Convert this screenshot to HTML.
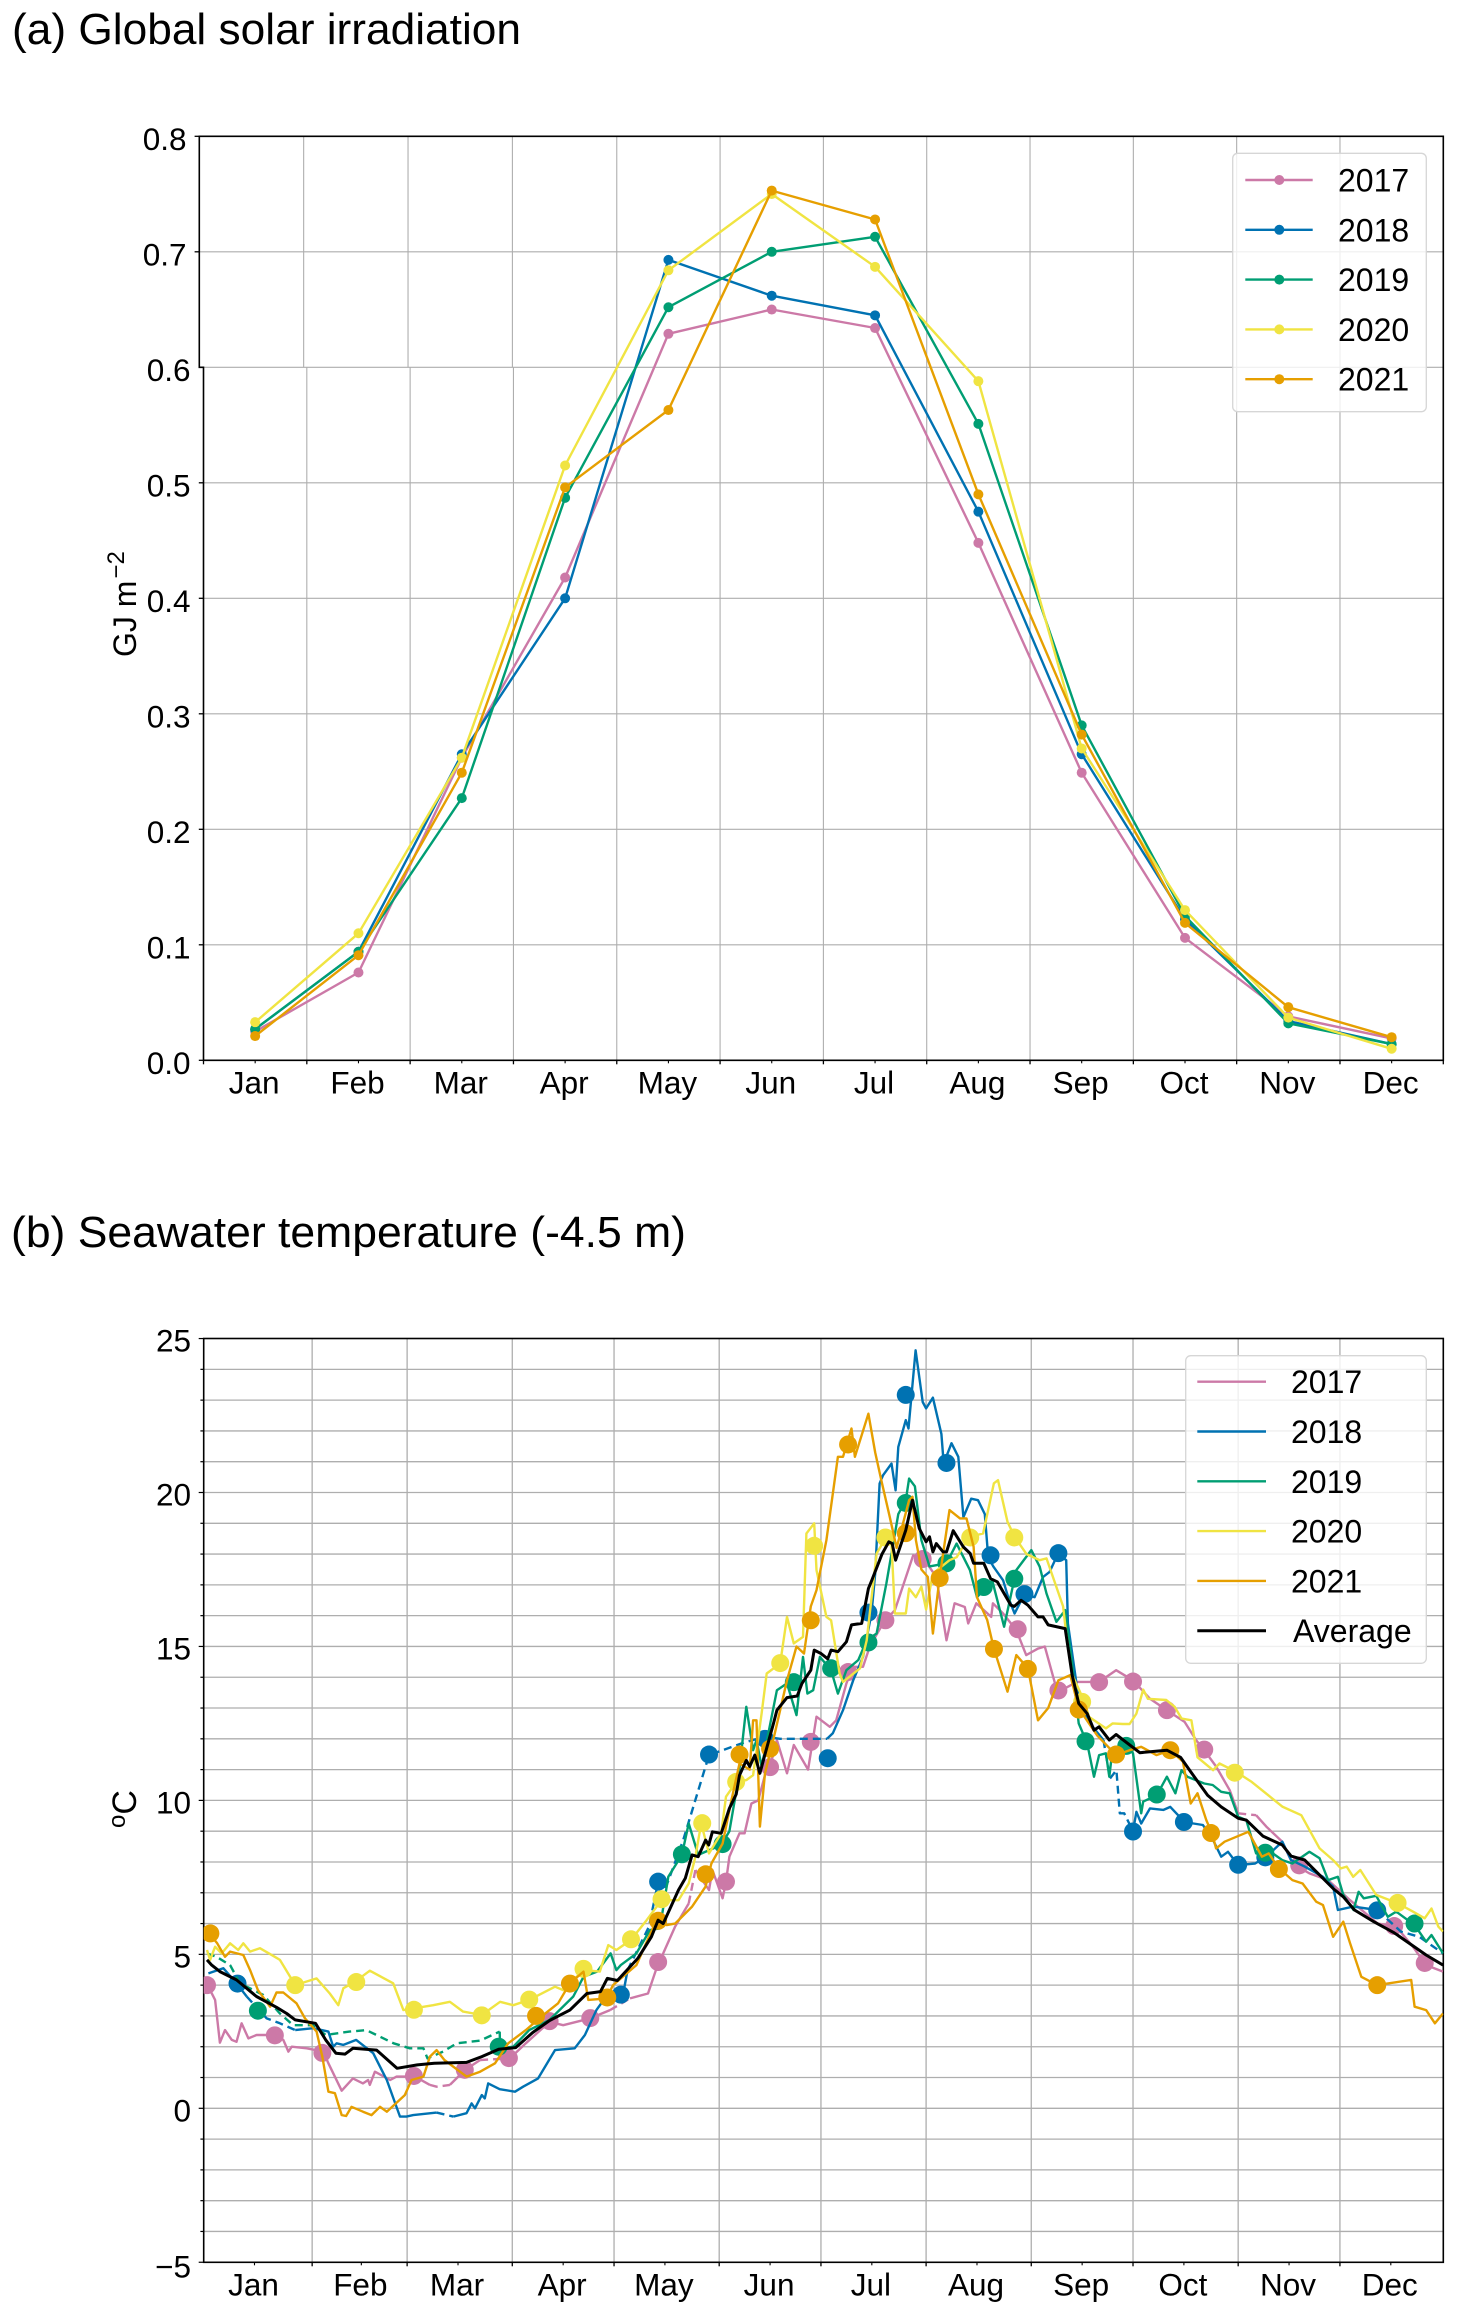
<!DOCTYPE html>
<html lang="en">
<head>
<meta charset="utf-8">
<title>Global solar irradiation and seawater temperature</title>
<style>
html,body{margin:0;padding:0;background:#fff;}
svg{display:block;font-family:"Liberation Sans",sans-serif;}
</style>
</head>
<body>
<svg id="fig" xmlns="http://www.w3.org/2000/svg" width="1464" height="2319" viewBox="0 0 1464 2319">
  <rect x="0" y="0" width="1464" height="2319" fill="#ffffff"/>
  <text x="12" y="44" font-size="44" textLength="509" lengthAdjust="spacingAndGlyphs" fill="#000">(a) Global solar irradiation</text>
  <text x="11" y="1247" font-size="44" textLength="675" lengthAdjust="spacingAndGlyphs" fill="#000">(b) Seawater temperature (-4.5 m)</text>
  <text transform="translate(136,657) rotate(-90)" font-size="32" fill="#000">GJ m<tspan dy="-12" dx="2" font-size="24">−2</tspan></text>
  <text transform="translate(136,1828) rotate(-90)" font-size="34" fill="#000"><tspan dy="-11" font-size="24">o</tspan><tspan dy="11">C</tspan></text>
  <defs>
    <clipPath id="clipB"><rect x="203.7" y="1338.5" width="1239.6" height="923.8"/></clipPath>
  </defs>
</svg>
<script>
// ---------- shared ----------
const monthNames = ["Jan","Feb","Mar","Apr","May","Jun","Jul","Aug","Sep","Oct","Nov","Dec"];
const seriesNames = ["2017","2018","2019","2020","2021"];
const seriesColors = ["#CC79A7","#0072B2","#009E73","#F0E442","#E69F00"];

// ---------- panel (a): monthly irradiation, GJ m-2 ----------
const solarTicks = [0,0.1,0.2,0.3,0.4,0.5,0.6,0.7,0.8];
const solar2017 = [.025,.076,.262,.418,.629,.650,.634,.448,.249,.106,.038,.019];
const solar2018 = [.027,.094,.265,.400,.693,.662,.645,.475,.265,.122,.034,.014];
const solar2019 = [.027,.094,.227,.487,.652,.700,.713,.551,.290,.125,.032,.014];
const solar2020 = [.033,.110,.262,.515,.684,.750,.687,.588,.270,.130,.037,.010];
const solar2021 = [.021,.091,.249,.496,.563,.753,.728,.490,.282,.119,.046,.020];

// ---------- panel (b): seawater temperature, [day of year, deg C] ----------
const tempTicks = [-5,0,5,10,15,20,25];
const monthLengths = [31,28,31,30,31,30,31,31,30,31,30,31];
const midMonthDays = [14,45.5,74,105,135,166,196,227,258,288,319,349];

const temp2017 = [[0.4,3.95],[2.4,3.52],[3.8,2.13],[5.3,2.54],[7.3,2.22],[8.7,2.16],[10.2,2.76],[12.2,2.27],[14.6,2.38],[20,2.38],[22.5,2.22],[24,1.84],[25,2],[29.4,1.95],[34.3,1.84],[35.8,1.46],[39.7,.57],[43,.97],[46,.81],[47.5,.92],[48,.76],[49.5,1.19],[54,.92],[55.9,1.03],[61.3,1.03],[65.7,.76],[67.7,.7],[71.6,.76],[76,1.24],[80.5,1.57],[89.3,1.62],[94,2.11],[101,2.81],[105,2.7],[112.9,2.92],[118.8,3.19],[124.7,3.57],[130,3.73],[133,4.7],[134.5,5.03],[138,5.9],[142,6.65],[144,7.74],[148,7.09],[149,7.74],[152,6.82],[153,7.36],[154,8.17],[157,8.93],[158.5,8.93],[160.5,9.9],[162.5,10],[164.9,10.98],[166,11.1],[168,11.96],[171,10.88],[173,11.8],[177.2,11],[179.7,12.72],[183.6,12.39],[185.5,12.6],[188.5,13.8],[190.5,14.34],[193.4,14.34],[195.4,15],[199.3,15.75],[202.8,16.18],[208.2,17.96],[211.6,17.8],[215,17.26],[218,15.2],[220.4,16.4],[223.4,16.28],[224.4,15.75],[226.8,16.4],[231.2,15.96],[231.7,16.4],[234.7,16.07],[238.6,15.53],[241.5,14.72],[245,14.93],[247,15],[250,13.8],[251.9,13.58],[256.5,13.85],[263,13.85],[268,14.23],[273,13.9],[278,13.3],[283,12.93],[288.2,12.55],[291.6,11.96],[294,11.63],[297.5,11.1],[301.5,10.33],[304,9.58],[309.3,9.52],[312.3,9.15],[317,8.66],[320,7.95],[325,7.63],[330.5,7.41],[337,6.76],[345.1,6],[350.6,5.9],[355.5,5.25],[359.4,4.65],[364.4,4.44]];
const dash2017 = [[65.7,71.6],[80.5,89.3],[118.8,124.7],[142,144],[304,309.3]];
const marks2017 = [[0,4],[20,2.37],[34,1.8],[61,1.05],[76,1.25],[89,1.63],[101,2.83],[113,2.93],[133,4.75],[153,7.36],[166,11.08],[178,11.9],[189,14.17],[200,15.85],[211,17.84],[239,15.56],[251,13.57],[263,13.84],[273,13.86],[283,12.93],[294,11.65],[322,7.89],[350,5.92],[359,4.72]];

const temp2018 = [[0.4,4.38],[4.8,4.55],[8.7,4.06],[11.7,3.63],[17.6,2.92],[21.5,2.76],[26,2.54],[31.3,2.6],[35.8,2.49],[37.2,2],[38.2,2.11],[40.2,2.06],[44,2.22],[49,1.79],[53,.92],[56.9,-.27],[58.8,-.27],[60.8,-.22],[67.7,-.14],[72.6,-.27],[76.5,-.16],[78,.16],[79,0],[81,.43],[81.9,.32],[82.9,.81],[86.3,.62],[90.8,.54],[93.2,.7],[97.6,.97],[102.6,1.89],[108.4,1.95],[111.4,2.38],[114.8,3.19],[118.3,3.73],[122.7,3.73],[124,4.49],[130.3,5.9],[132.9,7.3],[135,7.09],[140.4,8.71],[148,11.47],[157.6,11.85],[164.4,12.07],[168.9,12],[182.8,12],[184.5,12.18],[187.5,12.93],[190.5,13.9],[193.4,14.66],[195.9,16.07],[197,17.37],[198.3,20.29],[199.3,20.56],[201.8,20.94],[203,20.07],[203.8,21.48],[206,22.35],[206.8,22.08],[208.9,24.62],[211,22.94],[212,22.73],[214,23.08],[216.5,21.9],[217.2,20.94],[219.5,21.6],[221.5,21.16],[223,19.2],[225.3,19.8],[227.3,19.75],[229.3,19.3],[230.3,17.9],[231.8,17.6],[234.7,17.15],[236.2,16.6],[238.1,16.07],[241,16.7],[244,16.6],[246.5,17.26],[248.4,17.42],[250.9,18.02],[253.3,17.8],[253.8,15.75],[257.3,13.04],[259.3,12.72],[260.7,12.45],[264.3,11.96],[266.2,10.71],[268.1,10.98],[269.1,9.58],[270.4,9.58],[273,9],[274,9.63],[275.4,9.25],[278,9.74],[282,9.69],[284,9.79],[286.3,9.52],[288,9.3],[293.6,9.2],[296.6,8.71],[299,8.17],[301,8.33],[304,7.9],[309,7.95],[312.3,8.17],[317,8.66],[319.6,8.06],[323.6,7.85],[329,7.52],[332,7.2],[333.4,6.44],[337.9,6.55],[345,6.44],[352,5.74],[357.4,5.57],[364.4,5.03]];
const dash2018 = [[11.7,26],[67.7,72.6],[124,182.8],[264.3,273],[345,364.4]];
const marks2018 = [[9,4.05],[122,3.69],[133,7.36],[148,11.49],[164.5,12],[183,11.37],[195,16.1],[206,23.17],[218,20.96],[231,17.96],[241,16.7],[251,18.03],[273,8.99],[288,9.3],[304,7.91],[312,8.15],[345,6.43]];

const temp2019 = [[0,5.03],[2.8,4.92],[6.8,4.65],[9.7,4.06],[16.6,3.68],[21.5,3.08],[25.4,2.7],[31.3,2.7],[35,2.38],[42,2.49],[47,2.54],[55,2.11],[59.8,1.95],[63.8,1.95],[65,1.62],[69.6,1.84],[73.6,2.11],[80.5,2.2],[86.3,2.49],[86.4,1.95],[90.3,2],[95,2.54],[101,2.87],[108,3.63],[111,4.27],[115,4.44],[119,5.03],[120.7,4.49],[122,4.65],[126.6,5.03],[130.6,5.79],[133.5,5.84],[136,7.52],[140,8.23],[142,9.25],[144.8,8.23],[151.6,8.55],[154,9],[156.6,10.66],[159,13.04],[161,11.63],[162,11.96],[163.5,11.1],[164.5,11.63],[168,13.58],[171,13.8],[173.8,12.77],[175.7,14.66],[177,13.47],[178.7,13.58],[180.7,14.66],[184,14.23],[186,13.47],[188.5,14.23],[192,14.56],[194.5,15.2],[197.4,15.42],[200.3,17.05],[203.8,19.3],[206,19.75],[207,20.45],[208.7,20.2],[210.6,18.45],[213,17.6],[218,17.7],[221,18.34],[224.9,17.48],[227,16.6],[231.5,17.15],[235,15.64],[238.6,17.48],[243,18.13],[245.5,17.59],[247.5,16.72],[250.4,15.8],[253,16.18],[255,14.45],[257,12.5],[259.5,11.85],[261.5,10.77],[263,11.47],[265,11.53],[266,10.77],[267,11.7],[271,11.8],[273,11.53],[275.4,9.58],[276,9.96],[280,10.17],[283,10.77],[285.5,10.23],[287.3,10.98],[289,10.77],[294,10.55],[296.5,10.5],[299,10.28],[301.5,10.23],[304,9.47],[306.4,9.36],[309.3,8.28],[314.2,8.28],[317,8.06],[320,7.95],[325,8.33],[328,8.12],[330.5,7.41],[333.4,7.52],[335,6.93],[338,6.44],[339.5,7.03],[341,6.82],[344.7,6.9],[348.1,6.22],[350.6,6.39],[356,5.95],[359.4,5.41],[361,5.63],[364.4,5.03]];
const dash2019 = [[0,86.3]];
const marks2019 = [[15,3.17],[86,2],[140,8.25],[152,8.58],[173,13.84],[184,14.29],[195,15.13],[206,19.66],[218,17.7],[229,16.93],[238,17.2],[259,11.92],[271,11.77],[280,10.19],[312,8.3],[356,6]];

const temp2020 = [[0,5.14],[.9,4.82],[2.4,5.25],[4.3,5.03],[6.8,5.36],[9.2,5.14],[10.7,5.36],[12.7,5.09],[15.6,5.2],[20,4.92],[21.5,4.82],[26,4],[32.3,4.22],[36.2,3.73],[38.7,3.35],[40.2,3.9],[43.6,4.11],[48,4.47],[54.9,4.06],[57.9,3.19],[66.7,3.35],[71.6,3.46],[75.5,3.14],[81,3.03],[86.4,3.46],[90.3,3.35],[95,3.52],[102.6,3.95],[105,3.84],[111,4.49],[115.8,4.44],[118.3,5.3],[120.7,5.14],[125,5.47],[129.6,6.11],[134,6.76],[139,6.76],[142,7.3],[144,8.17],[145.7,9.25],[148,8.28],[151.6,8.93],[153,10.12],[156,10.6],[159,10.66],[161,10.82],[163.5,12.82],[165,14.12],[169,14.45],[171,15.96],[173,15.1],[175.7,15.31],[176.7,18.67],[179,19],[179.7,17.48],[182.6,15.96],[184,15.85],[186.5,14.12],[187.5,13.85],[192.5,14.29],[194.5,15.2],[197.4,18.02],[200.3,18.56],[201.8,18.34],[202.8,16.07],[206,16.07],[207,16.88],[209,16.6],[210.6,16.94],[212,16.2],[214,17.37],[218.9,17.8],[221,17.9],[224.7,18.56],[228.8,18.67],[232,20.3],[233.2,20.4],[236,19.05],[238.1,18.56],[241.6,18],[245.5,17.8],[247.5,17.86],[252.4,16.3],[253.3,15.42],[255,14.1],[258.7,13.2],[260,12.72],[265,12.34],[267,12.5],[270,12.48],[272,12.48],[274,12.82],[276,13.6],[277.4,13.3],[282.8,13.26],[285.3,13.04],[287.3,12.66],[290.2,12.6],[292,11.4],[296.6,10.98],[298.5,11.2],[303.4,10.93],[308,10.6],[317,9.8],[322.6,9.52],[328,8.44],[332,8.06],[334.3,7.79],[336,7.85],[337.9,7.52],[340,7.74],[344.7,6.93],[351,6.66],[355.5,6.39],[359,6.17],[361,6.49],[363,5.9],[364.4,5.74]];
const dash2020 = [];
const marks2020 = [[26,4],[44,4.1],[61,3.2],[81,3.02],[95,3.53],[111,4.53],[125,5.49],[134,6.79],[146,9.26],[156,10.6],[169,14.46],[179,18.27],[200,18.54],[225,18.54],[238,18.54],[258,13.2],[303,10.9],[351,6.67]];

const temp2021 = [[1,5.63],[3,5.36],[5.3,4.92],[6.8,5.09],[10.7,4.98],[12.7,4.49],[15,3.84],[18.6,3.3],[20.5,3.76],[22.5,3.76],[26.4,3.41],[28.9,2.92],[32.3,2.49],[34,1.68],[35.8,.54],[37.7,.49],[39.7,-.22],[41,-.25],[42.6,.05],[46,-.11],[48.5,-.22],[51,.05],[53,-.11],[58.3,.43],[60.3,.92],[63.8,1.03],[65.7,1.68],[67.7,1.89],[70,1.57],[76.5,1.03],[80.5,1.19],[84.9,1.46],[88.8,2.11],[94,2.54],[98.6,2.98],[103.5,3.41],[107,4.06],[111,4.44],[112.4,3.52],[117.8,3.57],[119.7,4],[126.6,4.65],[132.5,6.11],[135.5,5.95],[138,6],[143,6.55],[147,7.2],[148.7,7.95],[152,8.6],[154.6,10],[157,11.2],[160,11],[161,12.6],[162,12.6],[163,9.15],[164.5,10.88],[167.4,12.18],[171,13.9],[173.8,15],[176,14.77],[178,16.3],[179.7,16.83],[182.6,18.45],[186,21.16],[187.5,21.16],[190,22.08],[191,21.16],[195,22.56],[197,21.3],[199,20.3],[201.3,19.2],[203.3,18.2],[207,19.75],[208,19.86],[209,18.45],[210.6,17.5],[212.5,17.26],[214,15.42],[216,17.26],[218.9,19.43],[222,19.16],[223.9,19.16],[226,18.24],[227,16.6],[230,15.86],[232,14.93],[236,13.53],[238.6,14.72],[242,14.29],[245,12.6],[248,13],[251,13.9],[254.5,14.07],[257,12.99],[262.5,12.1],[268,11.47],[272,11.63],[275.4,11.74],[279.9,11.47],[284,11.63],[287.7,11.26],[290,9.9],[292,10.23],[294.6,9.36],[296.3,8.93],[297.5,8.44],[300,8.66],[307,8.98],[311,8.17],[313,8.28],[316,7.79],[320,7.41],[323,7.3],[327,6.71],[329,6.6],[332,5.57],[335,6.06],[337,5.36],[340.3,4.27],[345,4],[355,4.17],[356,3.3],[359.4,3.19],[362,2.76],[364.4,3.08]];
const dash2021 = [];
const marks2021 = [[1,5.68],[97,3],[107,4.05],[118,3.6],[133,6.09],[147,7.6],[157,11.49],[166,11.68],[178,15.85],[189,21.56],[206,18.68],[216,17.22],[232,14.92],[242,14.27],[257,12.95],[268,11.49],[284,11.63],[296,8.94],[316,7.77],[345,4]];

const tempAverage = [[0,4.82],[1.4,4.65],[3.8,4.44],[8.7,4.17],[14.6,3.63],[20.5,3.28],[23.5,3.08],[26,2.87],[32,2.76],[35,2.22],[38,1.79],[40.7,1.76],[43,1.95],[50,1.89],[56,1.3],[62,1.41],[67,1.46],[76.5,1.49],[81,1.68],[86,1.92],[91,1.97],[96,2.46],[101,2.85],[107,3.19],[112,3.73],[116,3.79],[118,4.22],[121,4.15],[127,4.87],[131,5.57],[133,6.11],[134.5,6],[139,7.09],[141,7.47],[143,8.23],[144.8,8.17],[147,8.71],[147.9,8.55],[149,8.98],[151.6,8.93],[154,9.74],[156,10.2],[157,10.82],[159,11.3],[160,11.1],[161.5,11.47],[163,10.88],[164.5,11.5],[167,12.5],[168,12.93],[171,13.34],[174,13.39],[175.4,13.8],[178,14.23],[179,14.88],[181,14.77],[183,14.6],[184,14.88],[186,14.83],[188.5,15.15],[190,15.7],[193,15.75],[195,16.88],[196,17.15],[199,18],[201,18.4],[202,18.34],[203,17.8],[206,18.78],[208,19.75],[210,18.83],[212,18.4],[213,18.56],[214,18.07],[215,18.34],[217,18.07],[218,18.07],[220,18.76],[223,18.23],[225,18.02],[226,17.7],[229,17.7],[231,17.2],[233,17.1],[237,16.34],[238,16.3],[240,16.5],[242,16.34],[245,15.96],[246.5,15.96],[248,15.7],[253,15.58],[255,14.1],[257,13.15],[259.5,12.82],[261.5,12.28],[263,12.39],[266,11.96],[268,12.14],[275,11.55],[283,11.63],[287,11.4],[290,10.93],[295,10.17],[299,9.79],[304,9.42],[306.4,9.36],[311.3,8.84],[317,8.55],[319.6,8.19],[323.6,8.06],[332,7.14],[335,6.87],[338.3,6.44],[344,6.06],[350,5.7],[359.4,4.98],[364.4,4.65]];

// ---------- helpers ----------
const SVGNS = "http://www.w3.org/2000/svg";
const fig = document.getElementById("fig");
function mk(parent, tag, attrs, text){
  const e = document.createElementNS(SVGNS, tag);
  for (const k in attrs) e.setAttribute(k, attrs[k]);
  if (text !== undefined) e.textContent = text;
  parent.appendChild(e);
  return e;
}
function group(name){
  const g = mk(fig, "g", {});
  
  
  return g;
}

// ---------- scales ----------
const aLeft = 203.5, aLeftTop = 199.3, aRight = 1443.3, aTop = 136.3, aBottom = 1060.3;
const bLeft = 203.7, bRight = 1443.3, bTop = 1338.5, bBottom = 2262.3;
const monthW = (aRight - aLeft) / 12;
const xA = m => aLeft + monthW * m;
const yA = v => aBottom - 1155 * v;
const xB = d => 207 + 3.392 * d;
const yB = t => 2108.3 - 30.79 * t;

// ---------- panel a grid + axes ----------
const gA = group("panel-a-grid");
solarTicks.forEach(v => {
  if (v === 0 || v === 0.8) return;
  const l = mk(gA, "line", {x1: v >= 0.6 ? aLeftTop : aLeft, x2: aRight, y1: yA(v), y2: yA(v), stroke: "#aeaeae", "stroke-width": 1.1});
  
  
});
monthNames.forEach((n, i) => {
  if (i === 0) return;
  const xl = xA(i);
  const xu = xl - 4.2 * Math.max(0, 1 - i / 4);
  const a = mk(gA, "line", {x1: xu, x2: xu, y1: aTop, y2: yA(0.6), stroke: "#aeaeae", "stroke-width": 1.1});
  
  
  const b = mk(gA, "line", {x1: xl, x2: xl, y1: yA(0.6), y2: aBottom, stroke: "#aeaeae", "stroke-width": 1.1});
  
  
});
const axA = group("panel-a-axes");
const frameA = mk(axA, "path", {d: `M${aLeft} ${aBottom}L${aLeft} ${yA(0.6)}L${aLeftTop} ${yA(0.6)}L${aLeftTop} ${aTop}L${aRight} ${aTop}L${aRight} ${aBottom}Z`, fill: "none", stroke: "#000", "stroke-width": 1.6});


solarTicks.forEach(v => {
  const upper = v > 0.6;
  const x0 = upper ? aLeftTop : aLeft;
  const t = mk(axA, "line", {x1: x0 - 4.7, x2: x0, y1: yA(v), y2: yA(v), stroke: "#000", "stroke-width": 1.3});
  
  
  const lab = mk(axA, "text", {x: upper ? 186.5 : 190.5, y: yA(v) + 13.5, "text-anchor": "end", "font-size": 31.5, fill: "#000"}, v.toFixed(1));
  
  
});
monthNames.forEach((n, i) => {
  const t = mk(axA, "line", {x1: xA(i), x2: xA(i), y1: aBottom, y2: aBottom + 4, stroke: "#000", "stroke-width": 1.3});
  
  
  const m = mk(axA, "line", {x1: xA(i + 0.5), x2: xA(i + 0.5), y1: aBottom, y2: aBottom + 3, stroke: "#000", "stroke-width": 1.1});
  
  
  const lab = mk(axA, "text", {x: xA(i + 0.5) - 1, y: 1093.5, "text-anchor": "middle", "font-size": 31.5, fill: "#000"}, n);
  
  
});
const lastTickA = mk(axA, "line", {x1: aRight, x2: aRight, y1: aBottom, y2: aBottom + 4, stroke: "#000", "stroke-width": 1.3});



// ---------- panel a series ----------
[solar2017, solar2018, solar2019, solar2020, solar2021].forEach((vals, s) => {
  const g = group("solar-series-" + seriesNames[s]);
  const pts = vals.map((v, i) => xA(i + 0.5).toFixed(1) + "," + yA(v).toFixed(1)).join(" ");
  const l = mk(g, "polyline", {points: pts, fill: "none", stroke: seriesColors[s], "stroke-width": 2.4, "stroke-linejoin": "round"});
  
  
  vals.forEach((v, i) => {
    const c = mk(g, "circle", {cx: xA(i + 0.5), cy: yA(v), r: 5, fill: seriesColors[s]});
    
    
  });
});

// ---------- panel a legend ----------
const legA = group("panel-a-legend");
const legABox = mk(legA, "rect", {x: 1232.7, y: 153.3, width: 193.6, height: 258.4, rx: 5, fill: "#fff", "fill-opacity": 0.8, stroke: "#d6d6d6", "stroke-width": 1.3});


seriesNames.forEach((n, i) => {
  const y = 180 + i * 49.8;
  const l = mk(legA, "line", {x1: 1245.3, x2: 1312.7, y1: y, y2: y, stroke: seriesColors[i], "stroke-width": 2.4});
  
  
  const c = mk(legA, "circle", {cx: 1279.3, cy: y, r: 5, fill: seriesColors[i]});
  
  
  const t = mk(legA, "text", {x: 1338, y: y + 11.5, "font-size": 32, fill: "#000"}, n);
  
  
});

// ---------- panel b grid + axes ----------
const gB = group("panel-b-grid");
for (let t = -4; t <= 24; t++) {
  const l = mk(gB, "line", {x1: bLeft, x2: bRight, y1: yB(t), y2: yB(t), stroke: "#aeaeae", "stroke-width": 1.3});
  
  
}
let cumDay = 0;
const monthStarts = monthLengths.map(n => { const d = cumDay; cumDay += n; return d; });
const axB = group("panel-b-axes");
monthStarts.forEach((d, i) => {
  if (i > 0) {
    const l = mk(gB, "line", {x1: xB(d), x2: xB(d), y1: bTop, y2: bBottom, stroke: "#aeaeae", "stroke-width": 1.3});
    
    
    const t = mk(axB, "line", {x1: xB(d), x2: xB(d), y1: bBottom, y2: bBottom + 4, stroke: "#000", "stroke-width": 1.3});
    
    
  }
  const mx = xB(midMonthDays[i]);
  const m = mk(axB, "line", {x1: mx, x2: mx, y1: bBottom, y2: bBottom + 3, stroke: "#000", "stroke-width": 1.1});
  
  
  const lab = mk(axB, "text", {x: mx - 1, y: 2295.5, "text-anchor": "middle", "font-size": 31.5, fill: "#000"}, monthNames[i]);
  
  
});
for (let t = -5; t <= 25; t++) {
  const major = t % 5 === 0;
  const tk = mk(axB, "line", {x1: bLeft - (major ? 5 : 3.3), x2: bLeft, y1: yB(t), y2: yB(t), stroke: "#000", "stroke-width": 1.2});
  
  
}
tempTicks.forEach(t => {
  const lab = mk(axB, "text", {x: 191, y: yB(t) + (t < 0 ? 15 : 13), "text-anchor": "end", "font-size": 31.5, fill: "#000"}, t < 0 ? "\u2212" + Math.abs(t) : String(t));
  
  
});
const frameB = mk(axB, "rect", {x: bLeft, y: bTop, width: bRight - bLeft, height: bBottom - bTop, fill: "none", stroke: "#000", "stroke-width": 1.6});



// ---------- panel b series ----------
function tracePath(pairs, dashes){
  const segs = [];
  let cur = null;
  for (let i = 0; i < pairs.length - 1; i++) {
    const dashed = dashes.some(r => pairs[i][0] >= r[0] && pairs[i + 1][0] <= r[1]);
    if (!cur || cur.dashed !== dashed) {
      cur = {dashed: dashed, d: "M" + xB(pairs[i][0]).toFixed(1) + " " + yB(pairs[i][1]).toFixed(1)};
      segs.push(cur);
    }
    cur.d += "L" + xB(pairs[i + 1][0]).toFixed(1) + " " + yB(pairs[i + 1][1]).toFixed(1);
  }
  return segs;
}
const tempSeries = [temp2017, temp2018, temp2019, temp2020, temp2021];
const tempDashes = [dash2017, dash2018, dash2019, dash2020, dash2021];
const tempMarks = [marks2017, marks2018, marks2019, marks2020, marks2021];
tempSeries.forEach((pairs, s) => {
  const g = group("temperature-series-" + seriesNames[s]);
  g.setAttribute("clip-path", "url(#clipB)");
  tracePath(pairs, tempDashes[s]).forEach(seg => {
    const p = mk(g, "path", {d: seg.d, fill: "none", stroke: seriesColors[s], "stroke-width": 2.4, "stroke-linejoin": "round", "stroke-dasharray": seg.dashed ? "8 5" : "none"});
    
    
  });
  tempMarks[s].forEach(m => {
    const c = mk(g, "circle", {cx: xB(m[0]), cy: yB(m[1]), r: 9, fill: seriesColors[s]});
    
    
  });
});
const gAvg = group("temperature-series-average");
gAvg.setAttribute("clip-path", "url(#clipB)");
tracePath(tempAverage, []).forEach(seg => {
  const p = mk(gAvg, "path", {d: seg.d, fill: "none", stroke: "#000", "stroke-width": 3, "stroke-linejoin": "round"});
  
  
});

// ---------- panel b legend ----------
const legB = group("panel-b-legend");
const legBBox = mk(legB, "rect", {x: 1185.7, y: 1355.7, width: 240.6, height: 307.6, rx: 5, fill: "#fff", "fill-opacity": 0.8, stroke: "#d6d6d6", "stroke-width": 1.3});


seriesNames.concat(["Average"]).forEach((n, i) => {
  const y = 1381.7 + i * 49.8;
  const isAvg = n === "Average";
  const l = mk(legB, "line", {x1: 1197.3, x2: 1266, y1: y, y2: y, stroke: isAvg ? "#000" : seriesColors[i], "stroke-width": isAvg ? 3 : 2.4});
  
  
  const t = mk(legB, "text", {x: isAvg ? 1293 : 1291, y: y + 11.5, "font-size": 32, fill: "#000"}, n);
  
  
});
</script>
</body>
</html>
